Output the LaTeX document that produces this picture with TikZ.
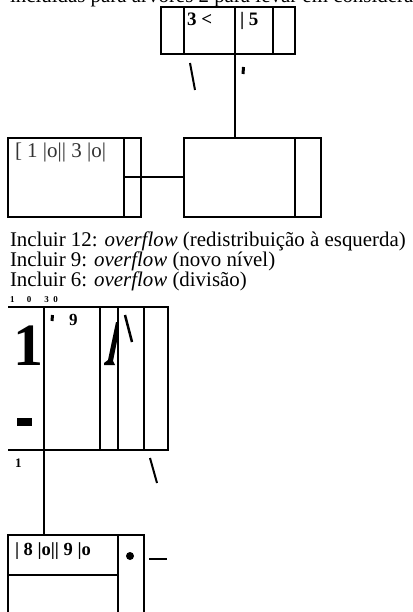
\documentclass[tikz,border=0pt]{standalone}
\usepackage{fontspec}
\setmainfont{Liberation Serif}
\tikzset{
  boxline/.style={line width=2pt, draw=black},
  emptybox/.style={boxline, rectangle, inner sep=0pt, outer sep=0pt},
  stroke/.style={line width=2pt, line cap=butt},
  txt/.style={anchor=base west, inner sep=0pt, outer sep=0pt},
  bodytext/.style={txt, font=\fontsize{20.9}{20}\selectfont},
}
\begin{document}
\begin{tikzpicture}[x=1pt,y=-1pt]
\useasboundingbox (0,0) rectangle (412,612);
\clip (0,0) rectangle (412,612);
\fill[white] (0,0) rectangle (412,612);

% cut-off line at top
\node[bodytext] (cut) at (10,3) {incluídas para árvores 2 para levar em consideração};

% top box
\node[emptybox, minimum width=134pt, minimum height=47pt] (topbox) at (228,30.5) {};
\coordinate (td1) at (184,30);
\coordinate (td2) at (235,30);
\coordinate (td3) at (273,30);
\draw[boxline] (td1 |- topbox.north) -- (td1 |- topbox.south);
\draw[boxline] (td2 |- topbox.north) -- (td2 |- topbox.south);
\draw[boxline] (td3 |- topbox.north) -- (td3 |- topbox.south);
\node[txt, font=\bfseries\fontsize{19}{19}\selectfont] (k1) at (187,26) {3 <};
\node[txt, font=\bfseries\fontsize{19}{19}\selectfont] (k2) at (240,26) {| 5};

% marks below top box
\draw[stroke] (190,63) -- (195,90);
\draw[line width=3pt] (243.5,67) -- (243,74);

% middle boxes
\node[emptybox, minimum width=133pt, minimum height=79pt] (lbox) at (74.5,177.5) {};
\node[emptybox, minimum width=137pt, minimum height=79pt] (rbox) at (252.5,177.5) {};
\coordinate (ld) at (124,177);
\coordinate (rd) at (295,177);
\draw[boxline] (ld |- lbox.north) -- (ld |- lbox.south);
\draw[boxline] (rd |- rbox.north) -- (rd |- rbox.south);
\draw[boxline] (ld) -- (lbox.east |- ld);
% connectors
\draw[boxline] (td2 |- topbox.south) -- (td2 |- rbox.north);
\draw[boxline] (lbox.east |- ld) -- (rbox.west |- ld);
\node[txt, font=\fontsize{21}{21}\selectfont, text=black!80] (lk) at (15,158) {[ 1 |o|| 3 |o|};

% text lines
\node[bodytext] (l1) at (10,246) {Incluir 12: \textit{overflow} (redistribuição à esquerda)};
\node[bodytext] (l2) at (10,266) {Incluir 9: \textit{overflow} (novo nível)};
\node[bodytext] (l3) at (10,286) {Incluir 6: \textit{overflow} (divisão)};
\node[txt, font=\bfseries\fontsize{9}{9}\selectfont] (nums) at (10,302) {1\hspace{12.5pt}0\hspace{13pt}3\hspace{4.5pt}0};

% big box (open at left)
\coordinate (bt) at (8,307);
\coordinate (bb) at (168,450);
\draw[boxline] (bt) -- (bb |- bt) -- (bb) -- (bt |- bb);
\foreach \xx in {44,100,118,144} \draw[boxline] (\xx,307) -- (\xx,450);
\node[txt, font=\bfseries\fontsize{60}{60}\selectfont] (big1) at (13,365) {1};
\fill (116,322) -- (118,322) -- (118,336) -- (113,361) -- (115,365) -- (104,365) -- (104,363) -- (108,360) -- cycle;
\draw[line width=3pt] (52.5,315) -- (52,321);
\node[txt, font=\bfseries\fontsize{17}{17}\selectfont] (n9) at (69,325) {9};
\draw[line width=2.5pt] (125,315) -- (132,342);
\fill (17,418) rectangle (32,426);

% below big box
\node[txt, font=\bfseries\fontsize{13}{13}\selectfont] (s1) at (15,467) {1};
\draw[stroke] (150,458) -- (157,483);

% bottom box
\coordinate (vt) at (44,450);
\coordinate (bx) at (8,535);
\coordinate (bxr) at (144,620);
\draw[boxline] (bx |- bxr) -- (bx) -- (bxr |- bx) -- (bxr);
\draw[boxline] (vt) -- (vt |- bx);
\draw[boxline] (118,535) -- (118,620);
\draw[boxline] (8,575) -- (118,575);
\node[txt, font=\bfseries\fontsize{18.5}{18.5}\selectfont] (bk) at (15,555) {| 8 |o|| 9 |o};
\fill (130,556) circle (4pt);
\draw[stroke] (149,559) -- (167,559);
\end{tikzpicture}
\end{document}
